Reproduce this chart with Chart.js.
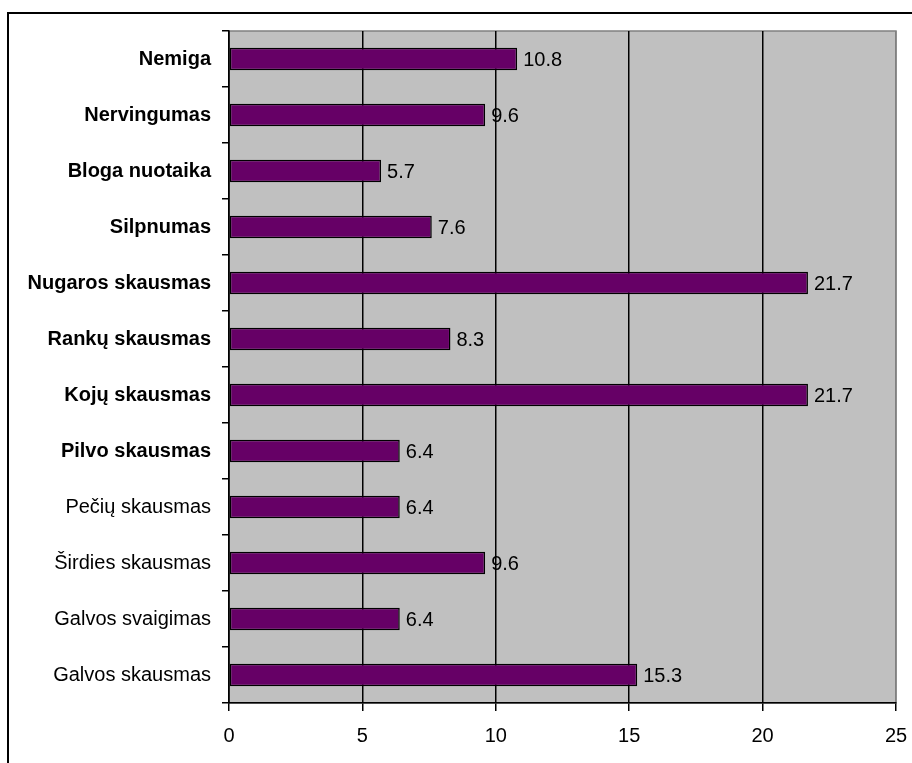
<!DOCTYPE html>
<html>
<head>
  <meta charset="UTF-8" />
  <title>Simptomai</title>
  <script src="https://cdn.jsdelivr.net/npm/chart.js"></script>
  <style>
    html, body { margin: 0; padding: 0; background: #fff; overflow: hidden; }
    #frame {
      position: absolute;
      left: 7px;
      top: 12px;
      width: 940px;
      height: 800px;
      border: 2px solid #000;
    }
    #wrap { position: absolute; left: 0; top: 0; width: 912px; height: 763px; }
  </style>
</head>
<body>
<div id="frame"></div>
<div id="wrap"><canvas id="symptomsChart"></canvas></div>

<script>
  const symptoms = [
    'Nemiga', 'Nervingumas', 'Bloga nuotaika', 'Silpnumas',
    'Nugaros skausmas', 'Rankų skausmas', 'Kojų skausmas', 'Pilvo skausmas',
    'Pečių skausmas', 'Širdies skausmas', 'Galvos svaigimas', 'Galvos skausmas'
  ];
  const percents = [10.8, 9.6, 5.7, 7.6, 21.7, 8.3, 21.7, 6.4, 6.4, 9.6, 6.4, 15.3];
  const boldCount = 8;
  const xTicks = [0, 5, 10, 15, 20, 25];

  const fontFamily = '"Liberation Sans", Arial, sans-serif';

  // grey plot background with a thin grey border on top/right
  const plotBackground = {
    id: 'plotBackground',
    beforeDraw(chart) {
      const { ctx, chartArea: a } = chart;
      ctx.save();
      ctx.fillStyle = '#C0C0C0';
      ctx.fillRect(a.left, a.top, a.right - a.left, a.bottom - a.top);
      ctx.strokeStyle = '#808080';
      ctx.lineWidth = 1.5;
      ctx.strokeRect(a.left, a.top, a.right - a.left, a.bottom - a.top);
      ctx.restore();
    }
  };

  // value labels to the right of each bar
  const valueLabels = {
    id: 'valueLabels',
    afterDatasetsDraw(chart) {
      const { ctx } = chart;
      const meta = chart.getDatasetMeta(0);
      ctx.save();
      ctx.font = '20px ' + fontFamily;
      ctx.fillStyle = '#000';
      ctx.textAlign = 'left';
      ctx.textBaseline = 'middle';
      meta.data.forEach((bar, i) => {
        ctx.fillText(String(percents[i]), bar.x + 6, bar.y + 1);
      });
      ctx.restore();
    }
  };

  new Chart(document.getElementById('symptomsChart'), {
    type: 'bar',
    data: {
      labels: symptoms,
      datasets: [{
        data: percents,
        backgroundColor: '#660066',
        borderColor: '#000',
        borderWidth: 1.5,
        borderSkipped: false,
        categoryPercentage: 1,
        barPercentage: 0.4
      }]
    },
    options: {
      indexAxis: 'y',
      responsive: true,
      maintainAspectRatio: false,
      animation: false,
      layout: { padding: { top: 31, right: 16, left: 0, bottom: 0 } },
      plugins: {
        legend: { display: false },
        tooltip: { enabled: false }
      },
      scales: {
        x: {
          min: 0,
          max: 25,
          afterBuildTicks(scale) {
            scale.ticks = xTicks.map(v => ({ value: v }));
          },
          afterFit(scale) {
            scale.height = 60;
            scale.paddingLeft = 0;
            scale.paddingRight = 0;
          },
          border: { display: true, color: '#000', width: 1.5 },
          grid: {
            drawOnChartArea: true,
            color: ctx => (ctx.tick && ctx.tick.value === 25) ? '#808080' : '#000',
            tickColor: '#000',
            lineWidth: 1.5,
            tickLength: 8
          },
          ticks: {
            color: '#000',
            padding: 13,
            font: { family: fontFamily, size: 20 }
          }
        },
        y: {
          afterFit(scale) { scale.width = 229; },
          border: { display: true, color: '#000', width: 1.5 },
          grid: {
            offset: true,
            drawOnChartArea: false,
            tickColor: '#000',
            lineWidth: 1.5,
            tickLength: 7
          },
          ticks: {
            color: '#000',
            padding: 11,
            font: ctx => ({
              family: fontFamily,
              size: 20,
              weight: ctx.index < boldCount ? 'bold' : 'normal'
            })
          }
        }
      }
    },
    plugins: [plotBackground, valueLabels]
  });
</script>
</body>
</html>
